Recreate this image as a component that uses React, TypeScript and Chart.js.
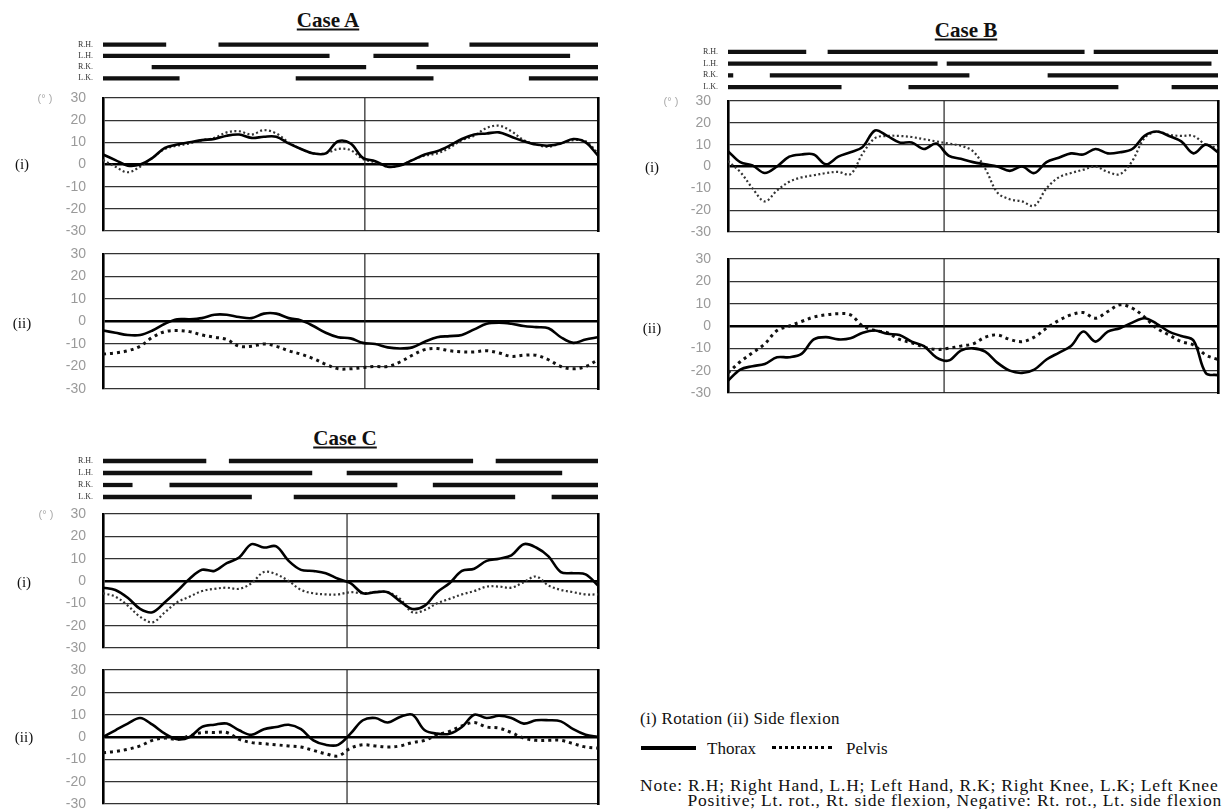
import React, { useEffect, useRef } from 'react';
import { Chart, registerables } from 'chart.js';
Chart.register(...registerables);

// ---------- DATA ----------
const samplePct = [0, 2.5, 5, 7.5, 10, 12.5, 15, 17.5, 20, 22.5, 25, 27.5, 30, 32.5, 35, 37.5, 40, 42.5, 45, 47.5, 50, 52.5, 55, 57.5, 60, 62.5, 65, 67.5, 70, 72.5, 75, 77.5, 80, 82.5, 85, 87.5, 90, 92.5, 95, 97.5, 100];
const yTicks = [-30, -20, -10, 0, 10, 20, 30];
const gaitRows = ['R.H.', 'L.H.', 'R.K.', 'L.K.'];

// Case A
const A_rot_thorax = [4.5, 2, -0.5, 0, 3, 7.5, 9, 10, 11, 11.5, 13, 13.5, 12, 12.5, 12.5, 9.5, 7, 5, 5, 10.5, 9.5, 3, 1.5, -1, -0.5, 2, 4.5, 6, 8.5, 11.5, 13.5, 14, 14.5, 12.5, 10.5, 9, 8.5, 9.5, 11.5, 10, 4];
const A_rot_pelvis = [2, -1, -3.5, -1, 3, 7, 8.5, 9.5, 11, 12, 14.5, 15, 13.5, 15.5, 14, 10, 7, 5, 5, 7, 6.5, 2.5, 1, -1, -0.5, 2, 4, 5, 7.5, 11, 13, 16.5, 17.5, 15, 11, 9, 8, 9.5, 11, 10.5, 5];
const A_side_thorax = [-4, -5, -6, -6, -4, -1, 1, 1, 1.5, 3, 3, 2, 1.5, 3.5, 3.5, 1.5, 0.5, -2, -5, -7, -7.5, -9.5, -10, -11.5, -12, -11.5, -9, -7, -6.5, -6, -3.5, -1, -0.5, -1, -2, -2.5, -3, -7, -9.5, -8, -7];
const A_side_pelvis = [-14.5, -14, -13, -11, -7, -4.5, -4, -4.5, -6, -7, -8, -11, -11, -10, -11, -13, -14.5, -16.5, -19, -21, -21, -20.5, -20, -20, -18, -15, -12.5, -12, -13, -13.5, -13.5, -13, -14, -15.5, -15, -15, -17, -20, -21, -20, -17];
const A_divider = 52.9;
const A_RH = [[0, 12.7], [23.4, 65.7], [74.1, 100]];
const A_LH = [[0, 45.7], [54.7, 94.3]];
const A_RK = [[9.9, 53.1], [63.4, 100]];
const A_LK = [[0, 15.4], [39, 66.7], [86.1, 100]];

// Case B
const B_rot_thorax = [7, 2, 0.5, -3, 0, 4.5, 5.5, 5.5, 1, 4.5, 6.5, 9, 16.5, 14, 11, 11, 8, 10.5, 5, 3.5, 2, 1, 0, -2, 0, -3, 2, 4, 6, 5.5, 8, 6, 6.5, 8, 14, 16, 14, 11.5, 6, 10, 6.5];
const B_rot_pelvis = [2.5, -2.5, -10, -16, -11, -7, -5, -4, -3, -2.5, -3.5, 6, 13, 14, 14, 13.5, 12.5, 11.5, 10.5, 9.5, 7, -1, -12, -15, -16, -18, -10, -5, -3, -1.5, 0, -2.5, -3.5, 2.5, 13, 16, 14.5, 14, 14, 10, 8.5];
const B_side_thorax = [-24.5, -19.5, -18, -17, -14, -14, -12.5, -6, -5, -6, -5.5, -3, -2, -3.5, -4, -7, -9, -14, -15.5, -11, -10, -11.5, -16.5, -20, -21, -19.5, -15, -12, -9, -2.5, -7, -2.5, -1, 1.5, 3.5, 1, -2.5, -4.5, -6.5, -21, -22];
const B_side_pelvis = [-21, -16, -12, -8, -2, 0, 2, 4, 5, 5.5, 5, 0, -2, -3, -6, -7.5, -9.5, -10.5, -10, -9, -8, -5, -4, -6, -7, -5, -1, 2.5, 5, 6, 3.5, 6.5, 9.5, 8, 4, -1, -4, -7, -8.5, -13, -15];
const B_divider = 44.1;
const B_RH = [[0, 15.9], [20.4, 72.7], [74.7, 100]];
const B_LH = [[0, 42.7], [44.7, 98.6]];
const B_RK = [[0, 1], [8.6, 49.2], [65.3, 100]];
const B_LK = [[0, 23.1], [36.9, 79.6], [90.6, 100]];

// Case C
const C_rot_thorax = [-3, -4, -7.5, -12.5, -14, -9.5, -4.5, 1, 5, 4.5, 8, 10.5, 16.5, 15, 15.5, 9, 5, 4.5, 3.5, 1, -1, -5.5, -5, -5, -9, -12.5, -11, -5, -1, 4.5, 5.5, 9, 10, 11.5, 16.5, 15, 11, 4, 3.5, 3, -2];
const C_rot_pelvis = [-5.5, -7, -11, -16, -18.5, -14, -9.5, -7, -4.5, -3.5, -3, -3.5, -1, 4, 3, 0, -4, -5.5, -6, -6, -5, -5.5, -5, -5, -8, -14, -13, -10, -8, -6, -4.5, -2.5, -2.5, -3, -0.5, 2, -2, -4, -5, -6, -6];
const C_side_thorax = [0, 3, 6, 8.5, 5.5, 1.5, -1, 0, 4.5, 5.5, 6, 3, 1, 3.5, 4.5, 5.5, 3.5, -1.5, -3.5, -3.5, 1.5, 7.5, 8.5, 6.5, 9, 10, 3, 1.5, 1.5, 4.5, 10, 8.5, 9.5, 8.5, 6, 7.5, 7.5, 7, 3.5, 1, 0];
const C_side_pelvis = [-7, -6.5, -5.5, -4, -1.5, -0.5, -1, 0.5, 2, 2, 2, -1, -2.5, -3, -3.5, -4, -4.5, -6, -7.5, -8.5, -5, -3.5, -4, -4.5, -4, -2.5, -1.5, 1, 2.5, 5, 6.5, 4.5, 4, 2, -0.5, -1.5, -1.5, -1.5, -3, -4.5, -5];
const C_divider = 49.3;
const C_RH = [[0, 20.8], [25.5, 74.7], [79.4, 100]];
const C_LH = [[0, 42.2], [49.3, 92.7]];
const C_RK = [[0, 5.9], [13.5, 59.4], [66.7, 100]];
const C_LK = [[0, 30], [38.6, 83.2], [90.7, 100]];

// ---------- LAYOUT ----------
const Y_W = 50;
const PAD = 10;
const RPAD = 3;
const G_W = 40;
const SERIF = "'Liberation Serif', 'Times New Roman', serif";
const SANS = "'Liberation Sans', Arial, sans-serif";

type Box = { left: number; top: number; w: number; h: number };

function MotionPlot({ box, thorax, pelvis, divider, heavy }: { box: Box; thorax: number[]; pelvis: number[]; divider: number; heavy: boolean }) {
  const ref = useRef<HTMLCanvasElement>(null);
  useEffect(() => {
    const chart = new Chart(ref.current!, {
      type: 'line',
      data: {
        datasets: [
          {
            label: 'Thorax',
            data: samplePct.map((x, i) => ({ x, y: thorax[i] })),
            borderColor: '#000',
            borderWidth: 2.6,
            pointRadius: 0,
            tension: 0.35,
            fill: false,
          },
          {
            label: 'Pelvis',
            data: samplePct.map((x, i) => ({ x, y: pelvis[i] })),
            borderColor: heavy ? '#111' : '#333',
            borderWidth: heavy ? 3 : 2.2,
            borderDash: heavy ? [3, 4] : [2, 2.5],
            pointRadius: 0,
            tension: 0.35,
            fill: false,
          },
          {
            label: 'divider',
            data: [{ x: divider, y: -30 }, { x: divider, y: 30 }],
            borderColor: '#222',
            borderWidth: 1.2,
            pointRadius: 0,
            fill: false,
          },
        ],
      },
      options: {
        animation: false,
        responsive: false,
        maintainAspectRatio: false,
        layout: { padding: { top: PAD, bottom: PAD, left: 0, right: RPAD } },
        plugins: { legend: { display: false }, tooltip: { enabled: false } },
        scales: {
          x: { type: 'linear', min: 0, max: 100, display: false },
          y: {
            type: 'linear',
            min: -30,
            max: 30,
            afterBuildTicks: (s: any) => { s.ticks = yTicks.map((v) => ({ value: v })); },
            afterFit: (s: any) => { s.width = Y_W; },
            ticks: { color: '#9a9a9a', font: { family: SANS, size: 14 }, padding: 0 },
            grid: {
              drawTicks: true,
              tickLength: 17,
              tickColor: 'rgba(0,0,0,0)',
              color: (c: any) => (c.tick && c.tick.value === 0 ? '#000' : '#333'),
              lineWidth: (c: any) => (c.tick && c.tick.value === 0 ? 2.6 : 1.3),
            },
            border: { display: true, color: '#000', width: 2.6 },
          },
          y2: {
            type: 'linear',
            position: 'right',
            min: -30,
            max: 30,
            afterFit: (s: any) => { s.width = 0; },
            ticks: { display: false },
            grid: { display: false },
            border: { display: true, color: '#000', width: 2.6 },
          },
        },
      } as any,
    });
    return () => chart.destroy();
  }, []);
  const cw = box.w + Y_W + RPAD;
  const ch = box.h + 2 * PAD;
  return (
    <canvas
      ref={ref}
      width={cw}
      height={ch}
      style={{ position: 'absolute', left: box.left - Y_W, top: box.top - PAD, width: cw, height: ch }}
    />
  );
}

function GaitBars({ box, rows }: { box: Box; rows: number[][][] }) {
  const ref = useRef<HTMLCanvasElement>(null);
  useEffect(() => {
    const data: any[] = [];
    gaitRows.forEach((r, i) => rows[i].forEach((seg) => data.push({ y: r, x: seg })));
    const chart = new Chart(ref.current!, {
      type: 'bar',
      data: {
        labels: gaitRows,
        datasets: [{ data, backgroundColor: '#111', borderWidth: 0, barThickness: 3.6, grouped: false } as any],
      },
      options: {
        indexAxis: 'y',
        animation: false,
        responsive: false,
        maintainAspectRatio: false,
        layout: { padding: { top: PAD, bottom: PAD, left: 0, right: RPAD } },
        plugins: { legend: { display: false }, tooltip: { enabled: false } },
        scales: {
          x: { type: 'linear', min: 0, max: 100, display: false },
          y: {
            type: 'category',
            labels: gaitRows,
            offset: true,
            afterFit: (s: any) => { s.width = G_W; },
            grid: { display: false },
            border: { display: false },
            ticks: { color: '#333', font: { family: SERIF, size: 8 }, padding: 2, autoSkip: false },
          },
        },
      } as any,
    });
    return () => chart.destroy();
  }, []);
  const cw = box.w + G_W + RPAD;
  const ch = box.h + 2 * PAD;
  return (
    <canvas
      ref={ref}
      width={cw}
      height={ch}
      style={{ position: 'absolute', left: box.left - G_W, top: box.top - PAD, width: cw, height: ch }}
    />
  );
}

function Txt({ x, y, children, style, anchor = 'left' }: any) {
  const tx = anchor === 'center' ? '-50%' : anchor === 'right' ? '-100%' : '0';
  return (
    <div
      style={{
        position: 'absolute',
        left: x,
        top: y,
        transform: `translate(${tx}, -50%)`,
        whiteSpace: 'nowrap',
        fontFamily: SERIF,
        lineHeight: 1,
        color: '#111',
        ...style,
      }}
    >
      {children}
    </div>
  );
}

const titleStyle = { fontWeight: 'bold', fontSize: 21, textDecoration: 'underline' };
const panelStyle = { fontSize: 15 };
const degStyle = { fontSize: 11, fontFamily: SANS, color: '#aaa' };
const noteStyle = { fontSize: 17.5, letterSpacing: 0.8 };

export default function App() {
  return (
    <div style={{ position: 'absolute', left: 0, top: 0, width: 1230, height: 809, background: '#fff', overflow: 'hidden' }}>
      {/* Case A */}
      <Txt x={328} y={20} anchor="center" style={titleStyle}>Case A</Txt>
      <GaitBars box={{ left: 103, top: 38.5, w: 495, h: 45 }} rows={[A_RH, A_LH, A_RK, A_LK]} />
      <MotionPlot box={{ left: 103, top: 98, w: 495, h: 133 }} thorax={A_rot_thorax} pelvis={A_rot_pelvis} divider={A_divider} heavy={false} />
      <MotionPlot box={{ left: 103, top: 254, w: 495, h: 135 }} thorax={A_side_thorax} pelvis={A_side_pelvis} divider={A_divider} heavy={true} />
      <Txt x={45} y={98} anchor="center" style={degStyle}>(° )</Txt>
      <Txt x={22} y={164} anchor="center" style={panelStyle}>(i)</Txt>
      <Txt x={22} y={323} anchor="center" style={panelStyle}>(ii)</Txt>

      {/* Case B */}
      <Txt x={966} y={30} anchor="center" style={titleStyle}>Case B</Txt>
      <GaitBars box={{ left: 728, top: 45.6, w: 490, h: 47.3 }} rows={[B_RH, B_LH, B_RK, B_LK]} />
      <MotionPlot box={{ left: 728, top: 101, w: 490, h: 131 }} thorax={B_rot_thorax} pelvis={B_rot_pelvis} divider={B_divider} heavy={false} />
      <MotionPlot box={{ left: 728, top: 259, w: 490, h: 134 }} thorax={B_side_thorax} pelvis={B_side_pelvis} divider={B_divider} heavy={true} />
      <Txt x={671} y={101} anchor="center" style={degStyle}>(° )</Txt>
      <Txt x={652} y={167} anchor="center" style={panelStyle}>(i)</Txt>
      <Txt x={652} y={328} anchor="center" style={panelStyle}>(ii)</Txt>

      {/* Case C */}
      <Txt x={345} y={438} anchor="center" style={titleStyle}>Case C</Txt>
      <GaitBars box={{ left: 103, top: 455, w: 495, h: 48 }} rows={[C_RH, C_LH, C_RK, C_LK]} />
      <MotionPlot box={{ left: 103, top: 514, w: 495, h: 134 }} thorax={C_rot_thorax} pelvis={C_rot_pelvis} divider={C_divider} heavy={false} />
      <MotionPlot box={{ left: 103, top: 670, w: 495, h: 134 }} thorax={C_side_thorax} pelvis={C_side_pelvis} divider={C_divider} heavy={true} />
      <Txt x={46} y={514} anchor="center" style={degStyle}>(° )</Txt>
      <Txt x={24} y={582} anchor="center" style={panelStyle}>(i)</Txt>
      <Txt x={24} y={737} anchor="center" style={panelStyle}>(ii)</Txt>

      {/* Legend & notes */}
      <Txt x={640} y={718} style={{ fontSize: 17, letterSpacing: 0.3 }}>(i) Rotation (ii) Side flexion</Txt>
      <div style={{ position: 'absolute', left: 641, top: 746, width: 55, height: 3.5, background: '#000' }} />
      <Txt x={707} y={748} style={{ fontSize: 17 }}>Thorax</Txt>
      <div style={{ position: 'absolute', left: 772, top: 746, width: 60, height: 0, borderTop: '3.5px dotted #000' }} />
      <Txt x={846} y={748} style={{ fontSize: 17 }}>Pelvis</Txt>
      <Txt x={640} y={786} style={noteStyle}>Note: R.H; Right Hand, L.H; Left Hand, R.K; Right Knee, L.K; Left Knee</Txt>
      <Txt x={1222} y={801} anchor="right" style={noteStyle}>Positive; Lt. rot., Rt. side flexion, Negative: Rt. rot., Lt. side flexion</Txt>
    </div>
  );
}
